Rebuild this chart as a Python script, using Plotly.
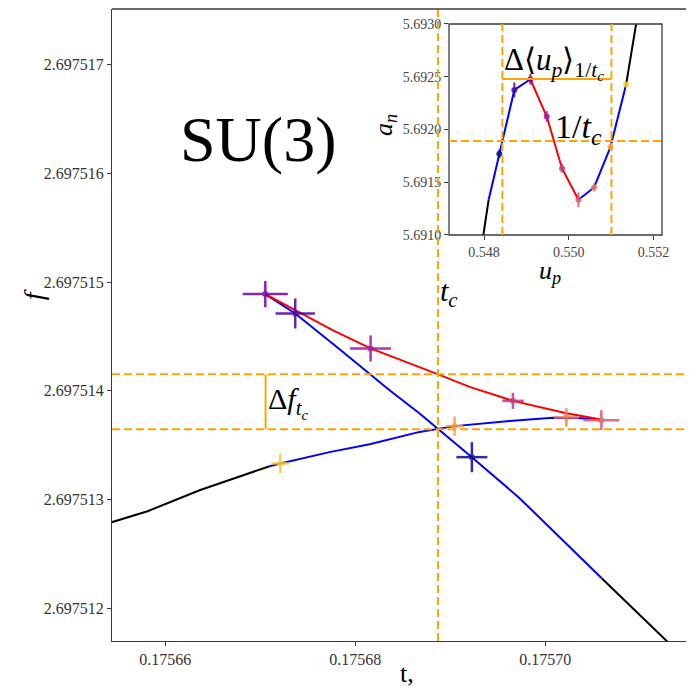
import plotly.graph_objects as go

# ---------------- main panel data: free energy f versus coupling t ----------------
# stable branch (black), metastable branches (blue), unstable branch (red)
black_left_t = [0.17565435, 0.17565814, 0.17566361, 0.17566782, 0.17567098]
black_left_f = [2.697512793, 2.697512894, 2.697513087, 2.697513216, 2.697513308]

blue_up_t = [0.17567098, 0.17567211, 0.17567729, 0.17568151, 0.17568677, 0.17569045,
             0.17569624, 0.17570077, 0.17570393, 0.17570572]
blue_up_f = [2.697513308, 2.697513333, 2.697513437, 2.697513510, 2.697513623, 2.697513676,
             2.697513724, 2.697513752, 2.697513749, 2.697513740]

red_t = [0.17567053, 0.17567372, 0.17567761, 0.17568161, 0.17568677, 0.17568866,
         0.17569203, 0.17569659, 0.17570221, 0.17570572]
red_f = [2.697514889, 2.697514742, 2.697514558, 2.697514390, 2.697514221, 2.697514154,
         2.697514037, 2.697513908, 2.697513795, 2.697513740]

blue_down_t = [0.17567053, 0.17567368, 0.17567835, 0.17568361, 0.17568677, 0.17569227,
               0.17569729, 0.17570593]
blue_down_f = [2.697514889, 2.697514711, 2.697514383, 2.697514006, 2.697513792, 2.697513391,
               2.697513014, 2.697512279]

black_right_t = [0.17570593, 0.17571277, 0.17571519]
black_right_f = [2.697512279, 2.697511702, 2.697511498]

# simulation points with errors in both directions
pt_t = [0.17569227, 0.17567368, 0.17567053, 0.17568161, 0.17569659,
        0.17570589, 0.17570221, 0.17569045, 0.17567211]
pt_f = [2.697513391, 2.697514711, 2.697514889, 2.697514390, 2.697513908,
        2.697513731, 2.697513756, 2.697513676, 2.697513333]
pt_terr = [1.63e-6, 2.07e-6, 2.37e-6, 2.16e-6, 1.13e-6, 1.89e-6, 1.32e-6, 0.89e-6, 0.95e-6]
pt_ferr = [0.138e-6, 0.138e-6, 0.12e-6, 0.12e-6, 0.074e-6, 0.092e-6, 0.083e-6, 0.089e-6, 0.092e-6]

# plasma colours, one per simulation point
pt_colors = ["#0d0887", "#46039f", "#7201a8", "#9c179e", "#bd3786",
             "#d8576b", "#ed7953", "#fb9f3a", "#fdca26"]

t_c = 0.1756887
f_upper = 2.6975141535
f_lower = 2.697513648
t_delta_bar = 0.17567056

x_ticks = [0.17566, 0.17568, 0.17570]
x_ticktext = ["0.17566", "0.17568", "0.17570"]
y_ticks = [2.697512, 2.697513, 2.697514, 2.697515, 2.697516, 2.697517]
y_ticktext = ["2.697512", "2.697513", "2.697514", "2.697515", "2.697516", "2.697517"]

# ---------------- inset data: a_n versus u_p ----------------
in_u = [0.548362, 0.548716, 0.549094, 0.549480, 0.549842, 0.550228, 0.550597, 0.550983, 0.551353]
in_a = [5.691770, 5.692375, 5.692476, 5.692123, 5.691631, 5.691334, 5.691451, 5.691833, 5.692426]
in_aerr = [0.00004, 0.00007, 0.00005, 0.00005, 0.00004, 0.00007, 0.00004, 0.00003, 0.00002]

in_black_lo_u = [0.547906, 0.547984, 0.548110]
in_black_lo_a = [5.690792, 5.691000, 5.691334]
in_blue1_u = [0.548110, 0.548362, 0.548716, 0.549094]
in_blue1_a = [5.691334, 5.691770, 5.692375, 5.692476]
in_red_u = [0.549094, 0.549480, 0.549842, 0.550228]
in_red_a = [5.692476, 5.692123, 5.691631, 5.691334]
in_blue2_u = [0.550228, 0.550597, 0.550983, 0.551353]
in_blue2_a = [5.691334, 5.691451, 5.691833, 5.692426]
in_black_hi_u = [0.551353, 0.551589, 0.551644]
in_black_hi_a = [5.692426, 5.693000, 5.693132]

u_left = 0.548433
u_right = 0.551007
a_inv_tc = 5.691890
a_delta_bar = 5.692479

in_x_ticks = [0.548, 0.550, 0.552]
in_x_ticktext = ["0.548", "0.550", "0.552"]
in_y_ticks = [5.6910, 5.6915, 5.6920, 5.6925, 5.6930]
in_y_ticktext = ["5.6910", "5.6915", "5.6920", "5.6925", "5.6930"]

# ---------------- figure ----------------
FONT = "Liberation Serif"
ORANGE = "#FFA500"
AX = "#3a3a3a"
DASH = "8px,4px"

fig = go.Figure()

def line(x, y, color, xa="x", ya="y"):
    fig.add_trace(go.Scatter(x=x, y=y, mode="lines", line=dict(color=color, width=2),
                             xaxis=xa, yaxis=ya, showlegend=False, hoverinfo="skip"))

line(black_left_t, black_left_f, "black")
line(black_right_t, black_right_f, "black")
line(blue_down_t, blue_down_f, "#0000FF")
line(blue_up_t, blue_up_f, "#0000FF")
line(red_t, red_f, "#FF0000")

for t, f, te, fe, c in zip(pt_t, pt_f, pt_terr, pt_ferr, pt_colors):
    fig.add_trace(go.Scatter(
        x=[t], y=[f], mode="markers", marker=dict(color=c, size=6), opacity=0.85,
        error_x=dict(type="data", array=[te], width=0, thickness=2.5, color=c),
        error_y=dict(type="data", array=[fe], width=0, thickness=2.5, color=c),
        showlegend=False, hoverinfo="skip"))

# inset curves and points
line(in_black_lo_u, in_black_lo_a, "black", "x2", "y2")
line(in_black_hi_u, in_black_hi_a, "black", "x2", "y2")
line(in_blue1_u, in_blue1_a, "#0000FF", "x2", "y2")
line(in_blue2_u, in_blue2_a, "#0000FF", "x2", "y2")
line(in_red_u, in_red_a, "#FF0000", "x2", "y2")
for u, a, ae, c in zip(in_u, in_a, in_aerr, pt_colors):
    fig.add_trace(go.Scatter(
        x=[u], y=[a], mode="markers", marker=dict(color=c, size=6), opacity=0.85,
        error_y=dict(type="data", array=[ae], width=0, thickness=2, color=c),
        xaxis="x2", yaxis="y2", showlegend=False, hoverinfo="skip"))

x_range = [0.1756544, 0.1757148]
y_range = [2.697511702, 2.697517508]
in_x_range = [0.547174, 0.552200]
in_y_range = [5.6910, 5.6930]

shapes = [
    # critical coupling and the two free-energy levels at t_c
    dict(type="line", xref="x", yref="paper", x0=t_c, x1=t_c, y0=0, y1=1,
         line=dict(color=ORANGE, width=2, dash=DASH)),
    dict(type="line", xref="paper", yref="y", x0=0, x1=1, y0=f_upper, y1=f_upper,
         line=dict(color=ORANGE, width=2, dash=DASH)),
    dict(type="line", xref="paper", yref="y", x0=0, x1=1, y0=f_lower, y1=f_lower,
         line=dict(color=ORANGE, width=2, dash=DASH)),
    dict(type="line", xref="x", yref="y", x0=t_delta_bar, x1=t_delta_bar, y0=f_lower, y1=f_upper,
         line=dict(color=ORANGE, width=2)),
    # top frame line of the main panel
    dict(type="line", xref="paper", yref="paper", x0=0, x1=1, y0=1, y1=1,
         line=dict(color=AX, width=1.3)),
    # inset frame
    dict(type="rect", xref="x2 domain", yref="y2 domain", x0=0, x1=1, y0=0, y1=1,
         line=dict(color=AX, width=1.3), fillcolor="rgba(0,0,0,0)"),
    # inset guides
    dict(type="line", xref="x2", yref="y2", x0=u_left, x1=u_left, y0=in_y_range[0], y1=in_y_range[1],
         line=dict(color=ORANGE, width=2, dash=DASH)),
    dict(type="line", xref="x2", yref="y2", x0=u_right, x1=u_right, y0=in_y_range[0], y1=in_y_range[1],
         line=dict(color=ORANGE, width=2, dash=DASH)),
    dict(type="line", xref="x2", yref="y2", x0=in_x_range[0], x1=in_x_range[1], y0=a_inv_tc, y1=a_inv_tc,
         line=dict(color=ORANGE, width=2, dash=DASH)),
    dict(type="line", xref="x2", yref="y2", x0=u_left, x1=u_right, y0=a_delta_bar, y1=a_delta_bar,
         line=dict(color=ORANGE, width=2)),
]

annotations = [
    dict(text="SU(3)", xref="paper", yref="paper", x=0.2544, y=0.793, xanchor="center", yanchor="middle",
         showarrow=False, font=dict(family=FONT, size=64, color="black")),
    dict(text="<i>t</i><sub><i>c</i></sub>", xref="x", yref="y", x=t_c, y=2.697514898,
         xanchor="left", yanchor="middle", showarrow=False, font=dict(family=FONT, size=30, color="black")),
    dict(text="Δ<i>f</i><sub><i>t</i><sub><i>c</i></sub></sub>", xref="x", yref="y", x=t_delta_bar,
         y=2.697513896, xanchor="left", yanchor="middle", xshift=0, showarrow=False,
         font=dict(family=FONT, size=30, color="black")),
    dict(text="<i>f</i>", xref="paper", yref="paper", x=-0.1376, y=0.547, xanchor="center", yanchor="middle",
         textangle=-90, showarrow=False, font=dict(family=FONT, size=28, color="black")),
    dict(text="t,", xref="paper", yref="paper", x=0.514, y=-0.052, xanchor="center", yanchor="middle",
         showarrow=False, font=dict(family=FONT, size=26, color="black")),
    # inset labels
    dict(text="Δ⟨<i>u</i><sub><i>p</i></sub>⟩<sub>1/<i>t</i><sub><i>c</i></sub></sub>", xref="x2", yref="y2",
         x=u_left, y=5.692628, xanchor="left", yanchor="middle", showarrow=False,
         font=dict(family=FONT, size=31, color="black")),
    dict(text="1/<i>t</i><sub><i>c</i></sub>", xref="x2", yref="y2", x=0.549637, y=5.69200,
         xanchor="left", yanchor="middle", showarrow=False, font=dict(family=FONT, size=34, color="black")),
    dict(text="<i>a</i><sub><i>n</i></sub>", xref="paper", yref="paper", x=0.4756, y=0.8165, textangle=-90,
         xanchor="center", yanchor="middle", showarrow=False, font=dict(family=FONT, size=26, color="black")),
    dict(text="<i>u</i><sub><i>p</i></sub>", xref="paper", yref="paper", x=0.763, y=0.5839,
         xanchor="center", yanchor="middle", showarrow=False, font=dict(family=FONT, size=26, color="black")),
]

tickfont = dict(family=FONT, size=16, color="#333")
in_tickfont = dict(family=FONT, size=14, color="#444")

fig.update_layout(
    width=693, height=686, autosize=False,
    margin=dict(l=112, r=0, t=9, b=45),
    paper_bgcolor="white", plot_bgcolor="white",
    showlegend=False,
    xaxis=dict(domain=[0, 1], range=x_range, tickvals=x_ticks, ticktext=x_ticktext,
               showgrid=False, zeroline=False, showline=True, linecolor=AX, linewidth=1.3,
               ticks="outside", ticklen=4, tickcolor=AX, tickfont=tickfont, anchor="y"),
    yaxis=dict(domain=[0, 1], range=y_range, tickvals=y_ticks, ticktext=y_ticktext,
               showgrid=False, zeroline=False, showline=True, linecolor=AX, linewidth=1.3,
               ticks="outside", ticklen=4, tickcolor=AX, tickfont=tickfont, anchor="x"),
    xaxis2=dict(domain=[0.5871, 0.9582], range=in_x_range, tickvals=in_x_ticks, ticktext=in_x_ticktext,
                showgrid=False, zeroline=False, showline=False,
                ticks="outside", ticklen=4, tickcolor=AX, tickfont=in_tickfont, anchor="y2"),
    yaxis2=dict(domain=[0.6424, 0.9763], range=in_y_range, tickvals=in_y_ticks, ticktext=in_y_ticktext,
                showgrid=False, zeroline=False, showline=False,
                ticks="outside", ticklen=4, tickcolor=AX, tickfont=in_tickfont, anchor="x2"),
    shapes=shapes,
    annotations=annotations,
)

fig.write_html("out.html")
